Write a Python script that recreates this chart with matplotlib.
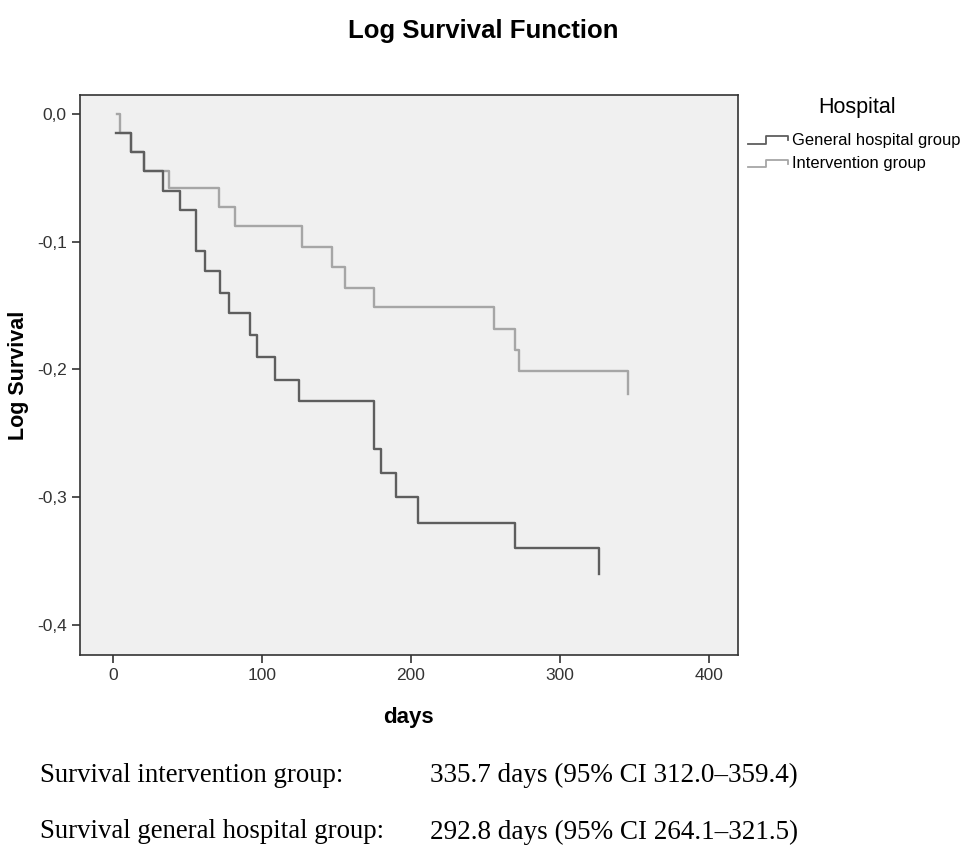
import matplotlib
matplotlib.use("Agg")
import matplotlib.pyplot as plt
from matplotlib.lines import Line2D
from matplotlib.legend_handler import HandlerBase
from matplotlib.ticker import FuncFormatter

# step points (days, log survival)
gen_days = [2, 12.5, 21, 34, 45, 56, 62, 72, 78, 92, 97, 109, 125, 175, 180, 190, 205, 270, 326]
gen_log = [-0.015, -0.030, -0.045, -0.060, -0.075, -0.107, -0.123, -0.140, -0.156, -0.173,
           -0.190, -0.208, -0.225, -0.262, -0.281, -0.300, -0.320, -0.340, -0.360]

int_days = [3, 5, 12.5, 21, 38, 71, 82, 127, 147, 156, 175, 256, 270, 272.5, 346]
int_log = [0.0, -0.015, -0.030, -0.045, -0.058, -0.073, -0.088, -0.104, -0.120, -0.136,
           -0.151, -0.168, -0.185, -0.201, -0.219]

x_ticks = [0, 100, 200, 300, 400]
y_ticks = [0.0, -0.1, -0.2, -0.3, -0.4]

summary_labels = ["Survival intervention group:", "Survival general hospital group:"]
summary_values = ["335.7 days (95% CI 312.0\u2013359.4)", "292.8 days (95% CI 264.1\u2013321.5)"]

dark = "#5e5e5e"
light = "#a6a6a6"


class StepHandler(HandlerBase):
    # small step glyph like the SPSS legend
    def create_artists(self, legend, orig, xd, yd, w, h, fontsize, trans):
        xs = [xd, xd + w * 0.45, xd + w * 0.45, xd + w, xd + w]
        ys = [yd + h * 0.1, yd + h * 0.1, yd + h * 0.75, yd + h * 0.75, yd + h * 0.4]
        ln = Line2D(xs, ys, color=orig.get_color(), lw=1.3)
        ln.set_transform(trans)
        return [ln]


plt.rcParams['font.family'] = ['Liberation Sans', 'DejaVu Sans']

fig = plt.figure(figsize=(9.67, 8.48), dpi=100)
ax = fig.add_axes([0.0827, 0.2276, 0.6803, 0.6604])
ax.set_facecolor("#f0f0f0")

l2, = ax.step(int_days, int_log, where="post", color=light, lw=1.7, label="Intervention group")
l1, = ax.step(gen_days, gen_log, where="post", color=dark, lw=1.7, label="General hospital group")

ax.set_xlim(-22, 419.5)
ax.set_ylim(-0.4237, 0.0149)
ax.set_xticks(x_ticks)
ax.set_yticks(y_ticks)
ax.yaxis.set_major_formatter(FuncFormatter(lambda v, p: ("%.1f" % v).replace(".", ",").replace("-0,0", "0,0")))
ax.tick_params(direction="out", length=6, width=1.2, labelsize=12.5, labelcolor="#333333", color="#333333")
for s in ax.spines.values():
    s.set_color("#333333")
    s.set_linewidth(1.2)

ax.set_xlabel("days", fontsize=16, fontweight="bold", labelpad=17)
ax.set_ylabel("Log Survival", fontsize=15.5, fontweight="bold", labelpad=6)
fig.text(0.5, 0.963, "Log Survival Function", ha="center", va="center", fontsize=18.5, fontweight="bold")

fig.text(857 / 967, 1 - 107 / 848, "Hospital", ha="center", va="center", fontsize=15.5)
leg = fig.legend(handles=[l1, l2], loc="upper left", bbox_to_anchor=(748 / 967, 1 - 133 / 848),
                 frameon=False, fontsize=11.9, handlelength=2.4, handletextpad=0.25,
                 labelspacing=0.5, borderpad=0, borderaxespad=0, handler_map={Line2D: StepHandler()})

for i in range(2):
    y = 1 - (775 + 57 * i) / 848
    fig.text(40 / 967, y, summary_labels[i], fontsize=19.3, family="Liberation Serif", va="center")
    fig.text(430 / 967, y, summary_values[i], fontsize=19.5, family="Liberation Serif", va="center")

fig.savefig("out.png", dpi=100)
